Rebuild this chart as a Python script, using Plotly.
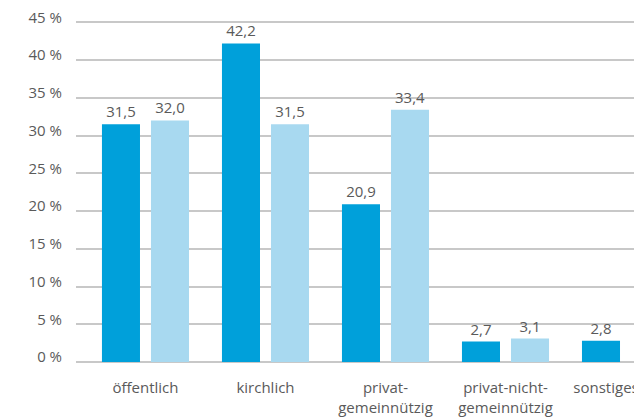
import plotly.graph_objects as go

# Anteile je Trägerart (in %)
categories = ["öffentlich", "kirchlich", "privat-<br>gemeinnützig",
              "privat-nicht-<br>gemeinnützig", "sonstiges"]
series_dark = [31.5, 42.2, 20.9, 2.7, 2.8]
series_light = [32.0, 31.5, 33.4, 3.1, None]
y_ticks = [0, 5, 10, 15, 20, 25, 30, 35, 40, 45]
y_labels = [f"{v} %" for v in y_ticks]
# letzte Kategorie etwas nach links gerückt, damit sie ins Bild passt
x_labels = categories[:-1] + ["sonstiges" + "\u00a0" * 10]

DARK = "#00A0DA"
LIGHT = "#A8D9F0"
TEXT = "#5a5a5a"
GRID = "#c8c8c8"
FONT = "Open Sans"

fig = go.Figure()
for vals, col in [(series_dark, DARK), (series_light, LIGHT)]:
    fig.add_trace(go.Bar(
        x=categories, y=vals, marker=dict(color=col, line=dict(width=0)),
        texttemplate="%{y:.1f}", textposition="outside",
        textfont=dict(family=FONT, size=15, color=TEXT),
        cliponaxis=False, showlegend=False,
    ))

# Seite hat 8px Rand -> Abbildung etwas kleiner
fig.update_layout(
    template="none",
    width=634, height=411,
    margin=dict(l=68, r=0, t=12, b=57, autoexpand=False),
    plot_bgcolor="white", paper_bgcolor="white",
    separators=",.",
    barmode="group", bargap=0.183, bargroupgap=0.224,
    font=dict(family=FONT, size=15, color=TEXT),
)
fig.update_xaxes(
    range=[-0.579, 4.1375], showgrid=False, showline=False, ticks="",
    zeroline=False, automargin=False,
    tickmode="array", tickvals=categories, ticktext=x_labels,
    tickfont=dict(family=FONT, size=15, color=TEXT), ticklabelstandoff=15,
)
fig.update_yaxes(
    range=[0, 45.3], tickmode="array", tickvals=y_ticks, ticktext=y_labels,
    showgrid=True, gridcolor=GRID, gridwidth=1.6,
    zeroline=True, zerolinecolor=GRID, zerolinewidth=1.6,
    showline=False, ticks="", automargin=False,
    ticklabelstandoff=13, ticklabelshift=-5, ticklabeloverflow="allow",
    tickfont=dict(family=FONT, size=15, color=TEXT),
)

fig.write_html("out.html")
